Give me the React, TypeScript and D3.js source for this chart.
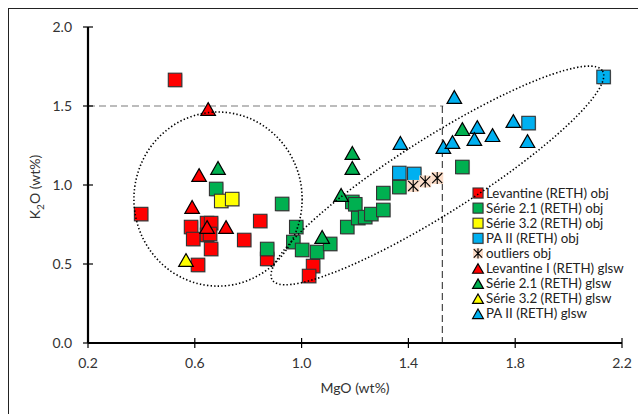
import * as d3 from "d3";
import { useEffect } from "react";

// MgO (x) / K2O (y) values, wt%
const levObjX = [0.526, 0.399, 0.586, 0.594, 0.646, 0.661, 0.646, 0.657, 0.661, 0.845, 0.785, 0.871, 0.612, 1.043, 1.028];
const levObjY = [1.665, 0.816, 0.734, 0.658, 0.759, 0.759, 0.684, 0.69, 0.595, 0.772, 0.652, 0.532, 0.494, 0.487, 0.424];

const s21ObjX = [0.68, 0.927, 0.871, 0.98, 0.969, 1.002, 1.058, 1.107, 1.171, 1.19, 1.201, 1.212, 1.238, 1.261, 1.306, 1.306, 1.366, 1.602];
const s21ObjY = [0.975, 0.88, 0.595, 0.734, 0.639, 0.589, 0.576, 0.627, 0.734, 0.893, 0.878, 0.791, 0.797, 0.816, 0.842, 0.949, 0.987, 1.114];

const s32ObjX = [0.699, 0.74];
const s32ObjY = [0.899, 0.911];

const paObjX = [1.366, 1.422, 1.85, 2.131];
const paObjY = [1.076, 1.07, 1.392, 1.684];

const outX = [1.418, 1.463, 1.508];
const outY = [0.994, 1.022, 1.044];

const levGlX = [0.65, 0.616, 0.59, 0.646, 0.717];
const levGlY = [1.481, 1.063, 0.861, 0.734, 0.734];

const s21GlX = [0.687, 1.077, 1.148, 1.19, 1.19, 1.602];
const s21GlY = [1.108, 0.671, 0.937, 1.203, 1.108, 1.354];

const s32GlX = [0.567];
const s32GlY = [0.525];

const paGlX = [1.37, 1.572, 1.531, 1.565, 1.658, 1.647, 1.715, 1.793, 1.846];
const paGlY = [1.266, 1.557, 1.241, 1.272, 1.367, 1.291, 1.316, 1.405, 1.278];

const xTicks = [0.2, 0.6, 1.0, 1.4, 1.8, 2.2];
const yTicks = [0, 0.5, 1.0, 1.5, 2.0];

// guide shapes (data units)
const limitX = 1.527;
const limitY = 1.5;
const circleC = [0.687, 0.911];
const circleR = [0.315, 0.551];
const ellipseEnds = [[0.89, 0.399], [2.127, 1.722]];

const series = [
  { name: "Levantine (RETH) obj", xs: levObjX, ys: levObjY, shape: "square", color: "#ff0000" },
  { name: "Série 2.1 (RETH) obj", xs: s21ObjX, ys: s21ObjY, shape: "square", color: "#00b050" },
  { name: "Série 3.2 (RETH) obj", xs: s32ObjX, ys: s32ObjY, shape: "square", color: "#ffff00" },
  { name: "PA II (RETH) obj", xs: paObjX, ys: paObjY, shape: "square", color: "#00b0f0" },
  { name: "outliers obj", xs: outX, ys: outY, shape: "star", color: "#fbdcc8" },
  { name: "Levantine I (RETH) glsw", xs: levGlX, ys: levGlY, shape: "triangle", color: "#ff0000" },
  { name: "Série 2.1 (RETH) glsw", xs: s21GlX, ys: s21GlY, shape: "triangle", color: "#00b050" },
  { name: "Série 3.2 (RETH) glsw", xs: s32GlX, ys: s32GlY, shape: "triangle", color: "#ffff00" },
  { name: "PA II (RETH) glsw", xs: paGlX, ys: paGlY, shape: "triangle", color: "#00b0f0" },
];

const W = 638;
const H = 414;
const font = "Lato, 'Open Sans', sans-serif";

function drawMarker(g: any, shape: string, color: string, cx: number, cy: number, size: number) {
  if (shape === "square") {
    g.append("rect")
      .attr("x", cx - size / 2 + 1)
      .attr("y", cy - size / 2 + 1)
      .attr("width", size)
      .attr("height", size)
      .attr("fill", "#000")
      .attr("opacity", 0.18);
    g.append("rect")
      .attr("x", cx - size / 2)
      .attr("y", cy - size / 2)
      .attr("width", size)
      .attr("height", size)
      .attr("fill", color)
      .attr("stroke", "#333")
      .attr("stroke-width", 1.1);
  } else if (shape === "triangle") {
    const h = size * 0.95;
    const w = size * 1.08;
    g.append("path")
      .attr("d", `M${cx},${cy - h / 2}L${cx + w / 2},${cy + h / 2}L${cx - w / 2},${cy + h / 2}Z`)
      .attr("fill", color)
      .attr("stroke", "#000")
      .attr("stroke-width", 1.2)
      .attr("stroke-linejoin", "miter");
  } else {
    const r = size * 0.42;
    g.append("rect")
      .attr("x", cx - size / 2)
      .attr("y", cy - size / 2)
      .attr("width", size)
      .attr("height", size)
      .attr("fill", color);
    g.append("path")
      .attr("d", `M${cx - r},${cy - r}L${cx + r},${cy + r}M${cx - r},${cy + r}L${cx + r},${cy - r}M${cx},${cy - r * 1.2}L${cx},${cy + r * 1.2}`)
      .attr("stroke", "#000")
      .attr("stroke-width", 1.1)
      .attr("fill", "none");
  }
}

function Chart() {
  useEffect(() => {
    document.body.style.margin = "0";
    const root = d3.select("#chart");
    root.selectAll("*").remove();

    const svg = root.append("svg").attr("width", W).attr("height", H).style("display", "block");

    svg.append("rect").attr("width", W).attr("height", H).attr("fill", "#fff");
    svg.append("rect")
      .attr("x", 8.5)
      .attr("y", 8.5)
      .attr("width", W)
      .attr("height", H)
      .attr("fill", "none")
      .attr("stroke", "#222")
      .attr("stroke-width", 1);

    const x = d3.scaleLinear().domain([0.2, 2.2]).range([88, 622]);
    const y = d3.scaleLinear().domain([0, 2]).range([343, 27]);

    // limit lines
    svg.append("line")
      .attr("x1", x(0.2)).attr("x2", x(limitX) + 1)
      .attr("y1", y(limitY)).attr("y2", y(limitY))
      .attr("stroke", "#a6a6a6").attr("stroke-width", 1.5)
      .attr("stroke-dasharray", "7,4");
    svg.append("line")
      .attr("x1", x(limitX)).attr("x2", x(limitX))
      .attr("y1", y(limitY)).attr("y2", y(0))
      .attr("stroke", "#222").attr("stroke-width", 1)
      .attr("stroke-dasharray", "7,4");

    // axes
    const ax = svg.append("g");
    ax.append("line").attr("x1", x(0.2)).attr("x2", x(2.2)).attr("y1", y(0)).attr("y2", y(0))
      .attr("stroke", "#000").attr("stroke-width", 2.2);
    ax.append("line").attr("x1", x(0.2)).attr("x2", x(0.2)).attr("y1", y(0)).attr("y2", y(2))
      .attr("stroke", "#000").attr("stroke-width", 2.2);
    xTicks.forEach((t) => {
      ax.append("line").attr("x1", x(t)).attr("x2", x(t)).attr("y1", y(0) - 5).attr("y2", y(0) + 5)
        .attr("stroke", "#000").attr("stroke-width", 1.2);
      ax.append("text").attr("x", x(t)).attr("y", y(0) + 25)
        .attr("text-anchor", "middle").attr("font-family", font).attr("font-size", 14)
        .attr("fill", "#333").text(t.toFixed(1));
    });
    yTicks.forEach((t) => {
      ax.append("line").attr("x1", x(0.2) - 5).attr("x2", x(0.2) + 5).attr("y1", y(t)).attr("y2", y(t))
        .attr("stroke", "#000").attr("stroke-width", 1.2);
      ax.append("text").attr("x", x(0.2) - 16).attr("y", y(t) + 5)
        .attr("text-anchor", "end").attr("font-family", font).attr("font-size", 14)
        .attr("fill", "#333").text(t.toFixed(1));
    });
    ax.append("text").attr("x", (x(0.2) + x(2.2)) / 2).attr("y", 393)
      .attr("text-anchor", "middle").attr("font-family", font).attr("font-size", 14)
      .attr("fill", "#333").text("MgO (wt%)");
    const yl = ax.append("text")
      .attr("transform", `translate(40,${y(1) + 2}) rotate(-90)`)
      .attr("text-anchor", "middle").attr("font-family", font).attr("font-size", 14)
      .attr("fill", "#333");
    yl.append("tspan").text("K");
    yl.append("tspan").attr("font-size", 10).attr("dy", 4).text("2");
    yl.append("tspan").attr("dy", -4).text("O (wt%)");

    // points
    const pts = svg.append("g");
    series.forEach((s) => {
      s.xs.forEach((v, i) => drawMarker(pts, s.shape, s.color, x(v), y(s.ys[i]), s.shape === "star" ? 12 : 13.5));
    });

    // legend
    const lg = svg.append("g");
    series.forEach((s, i) => {
      const ly = 193 + i * 15.1;
      drawMarker(lg, s.shape, s.color, 478, ly, 10);
      lg.append("text").attr("x", 486).attr("y", ly + 4.5)
        .attr("font-family", font).attr("font-size", 13.3).attr("fill", "#222").text(s.name);
    });

    // dotted groupings
    const dots = svg.append("g").attr("fill", "none").attr("stroke", "#000")
      .attr("stroke-width", 1.6).attr("stroke-dasharray", "1.4,2.2");
    dots.append("ellipse")
      .attr("cx", x(circleC[0])).attr("cy", y(circleC[1]))
      .attr("rx", x(circleC[0] + circleR[0]) - x(circleC[0]))
      .attr("ry", y(circleC[1]) - y(circleC[1] + circleR[1]));
    const [p1, p2] = ellipseEnds.map((d) => [x(d[0]), y(d[1])]);
    const ecx = (p1[0] + p2[0]) / 2;
    const ecy = (p1[1] + p2[1]) / 2;
    const ea = Math.hypot(p2[0] - p1[0], p2[1] - p1[1]) / 2;
    const ang = (Math.atan2(p2[1] - p1[1], p2[0] - p1[0]) * 180) / Math.PI;
    dots.append("ellipse")
      .attr("cx", ecx).attr("cy", ecy).attr("rx", ea).attr("ry", 38)
      .attr("transform", `rotate(${ang},${ecx},${ecy})`);
  }, []);

  return <div id="chart"></div>;
}

export default function App() {
  return <Chart />;
}
